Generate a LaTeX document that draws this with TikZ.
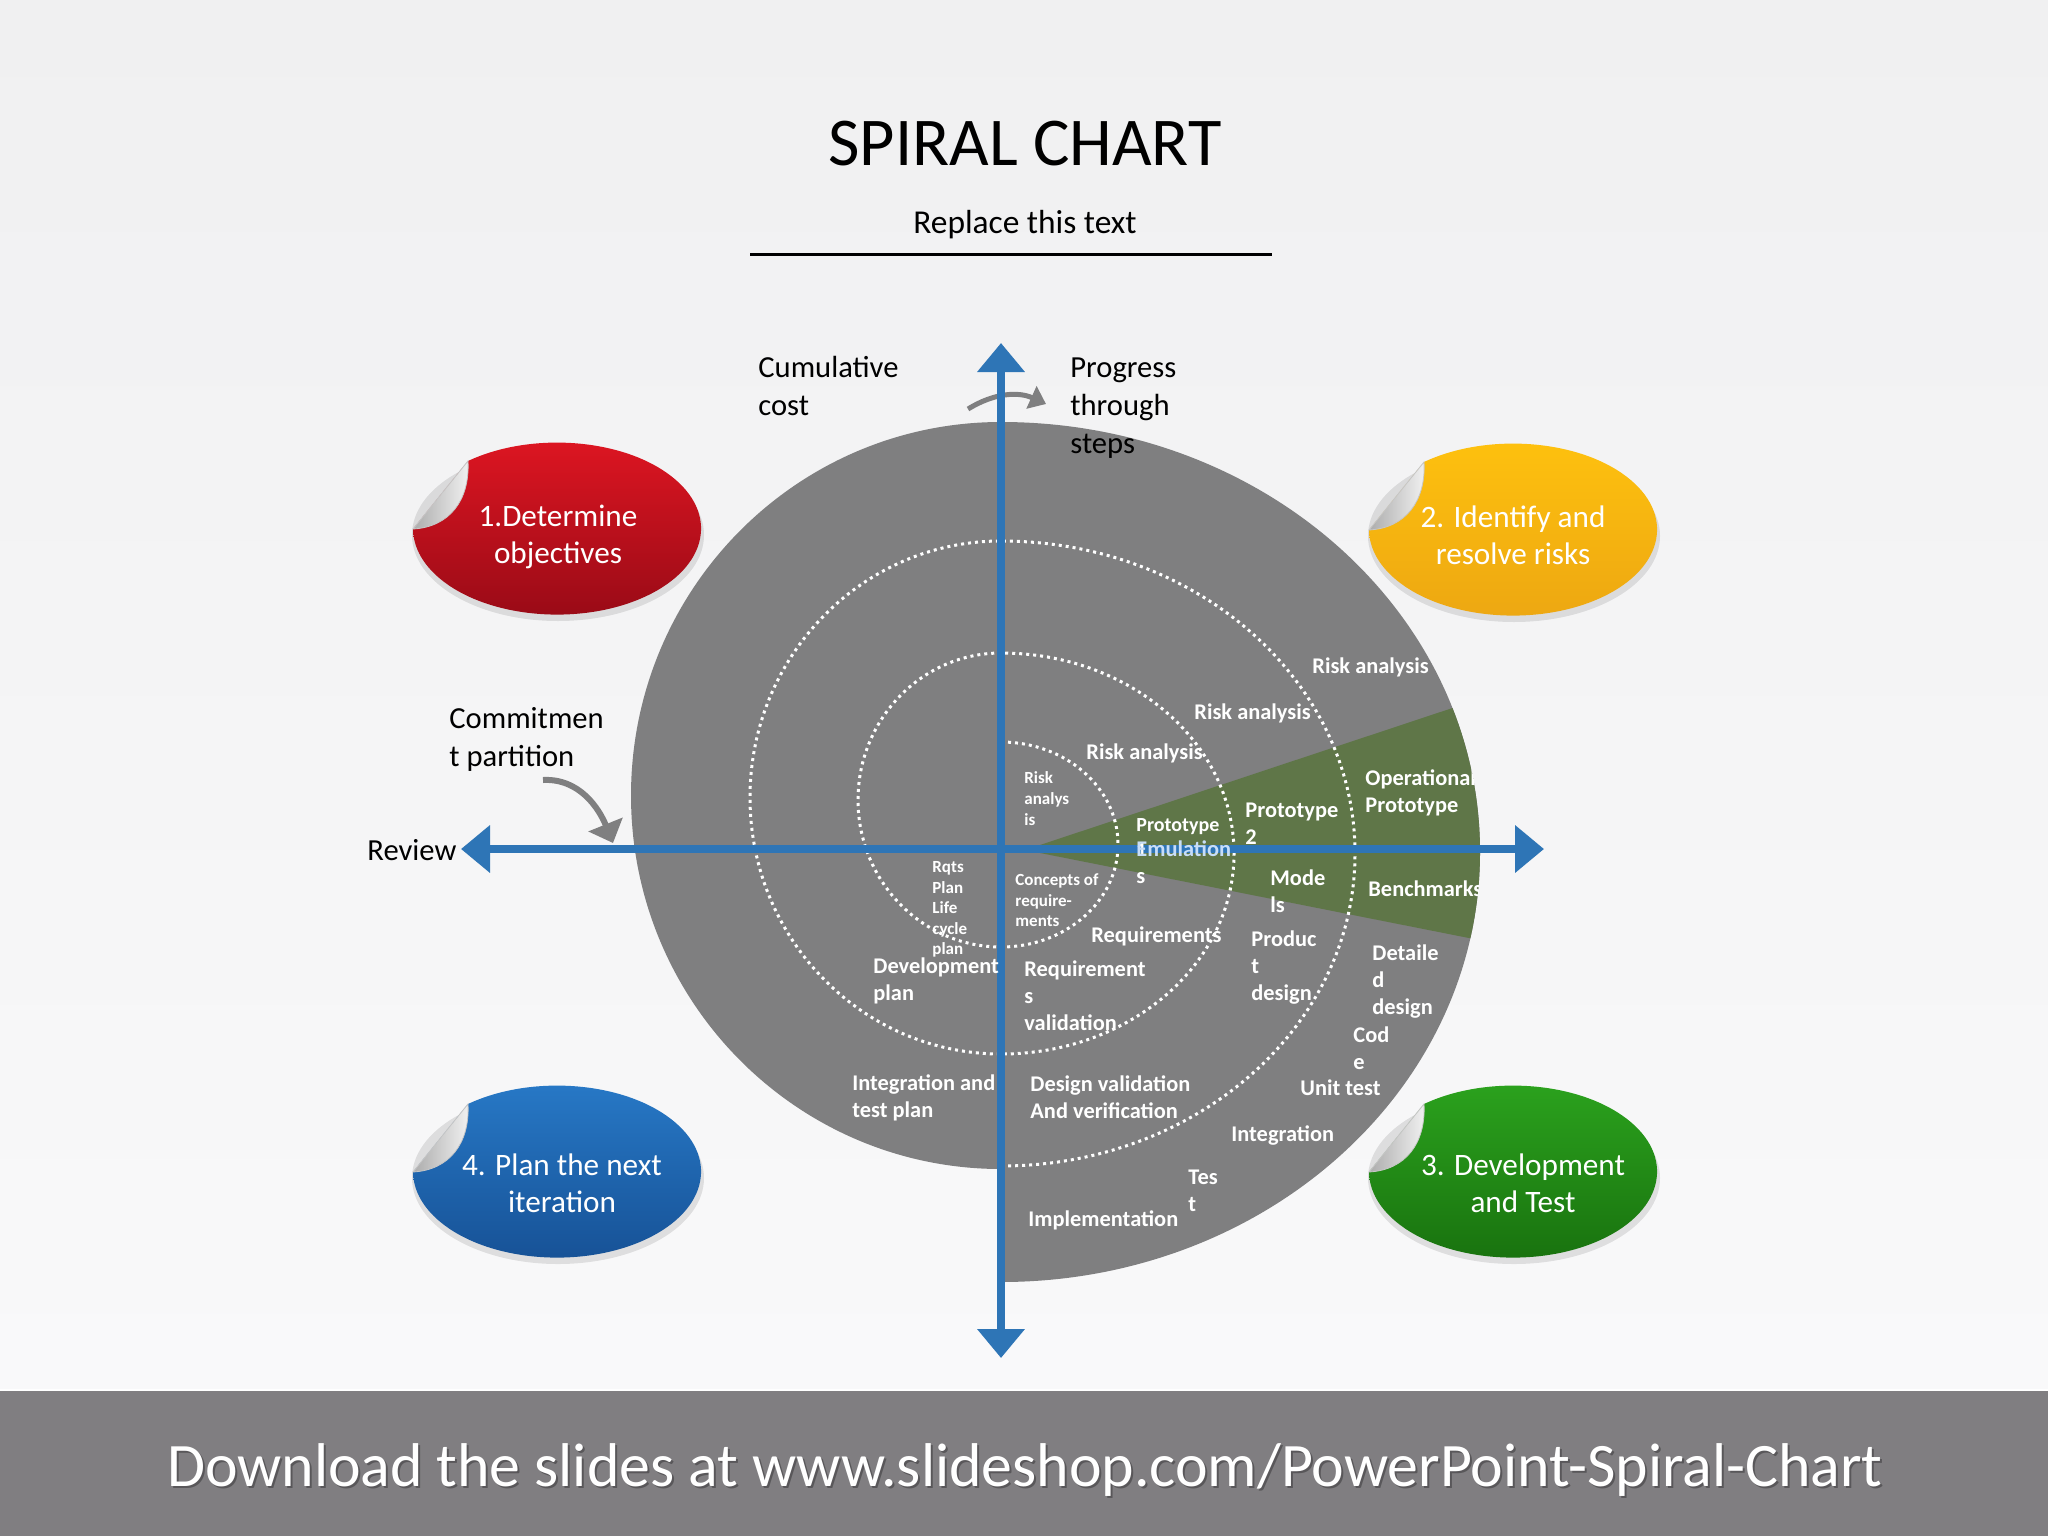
\documentclass[tikz,border=0pt]{standalone}
\usepackage{fontspec}
\setmainfont{Carlito}
\usetikzlibrary{arrows.meta}
\definecolor{bgtop}{RGB}{240,240,241}
\definecolor{bgbot}{RGB}{249,249,250}
\definecolor{footgray}{RGB}{128,126,129}
\definecolor{spiralgray}{RGB}{127,127,128}
\definecolor{wedgegreen}{RGB}{95,118,72}
\definecolor{axisblue}{RGB}{46,117,182}
\definecolor{emublue}{RGB}{200,222,248}
\definecolor{redA}{RGB}{224,22,34}\definecolor{redB}{RGB}{150,10,22}
\definecolor{yelA}{RGB}{255,194,14}\definecolor{yelB}{RGB}{236,166,18}
\definecolor{bluA}{RGB}{40,122,200}\definecolor{bluB}{RGB}{22,80,148}
\definecolor{grnA}{RGB}{44,164,30}\definecolor{grnB}{RGB}{24,112,14}
\def\spiralouter{(1001,-422) arc[start angle=90,end angle=270,x radius=370,y radius=373.5] -- (1001,-1282) arc[start angle=-90,end angle=90,x radius=479,y radius=430] -- cycle}
\newcommand\spsticker[4]{%
  \begin{scope}[shift={(#1,#2)}]
    \fill[black,opacity=0.10] (1,-6) ellipse [x radius=146,y radius=86];
    \shade[top color=#3,bottom color=#4] (-144,0) -- (-89,68) arc[start angle=128.2,end angle=-180,x radius=144,y radius=86];
    \shade[left color=gray!65,right color=gray!10,draw=gray!45,line width=0.4pt] (-144,0) -- (-89,68) .. controls (-87,28) and (-108,2) .. cycle;
  \end{scope}}
\tikzset{
 lbl/.style={text=white,font=\fontsize{11.2}{13.6}\selectfont\bfseries,anchor=west,align=left,inner sep=0pt},
 lbls/.style={text=white,font=\fontsize{8.5}{10.3}\selectfont\bfseries,anchor=west,align=left,inner sep=0pt},
 lblm/.style={text=white,font=\fontsize{10}{12.5}\selectfont\bfseries,anchor=west,align=left,inner sep=0pt},
 note/.style={text=black,font=\fontsize{15.3}{19}\selectfont,anchor=west,align=left,inner sep=0pt},
 stickertext/.style={text=white,font=\fontsize{15.6}{18.5}\selectfont,align=center,inner sep=0pt},
 dots/.style={white,line width=1.5pt,line cap=butt,dash pattern=on 1.5pt off 2pt},
 axisline/.style={axisblue,line width=4pt,{Triangle[width=23pt,length=14.5pt]}-{Triangle[width=23pt,length=14.5pt]}},
 grayarrow/.style={spiralgray,line width=3pt,-{Triangle[width=18pt,length=10pt]}},
 grayarrowsm/.style={spiralgray,line width=2.5pt,-{Triangle[width=12pt,length=8pt]}},
}
\begin{document}
\begin{tikzpicture}[x=0.5pt,y=0.5pt]
\useasboundingbox (0,0) rectangle (2048,-1536);
% background
\shade[top color=bgtop,bottom color=bgbot] (0,0) rectangle (2048,-1390);
\fill[footgray] (0,-1390) rectangle (2048,-1536);
\draw[white,line width=1pt] (0,-1390) -- (2048,-1390);
% title
\node[anchor=base,font=\fontsize{34.2}{40}\selectfont] (title) at (1025,-165) {SPIRAL CHART};
\node[anchor=base,font=\fontsize{16.7}{20}\selectfont] (sub) at (1025,-233) {Replace this text};
\coordinate (ulA) at (750,-254);
\coordinate (ulB) at (1272,-254);
\draw[line width=1.5pt] (ulA) -- (ulB);
% spiral
\fill[spiralgray] \spiralouter;
\begin{scope}
  \clip \spiralouter;
  \fill[wedgegreen] (1025,-850) -- (1600,-659) -- (1600,-964) -- cycle;
\end{scope}
\draw[dots] (1001,-742) arc[start angle=90,end angle=-90,x radius=117,y radius=102.5]
  arc[start angle=270,end angle=90,x radius=143,y radius=147]
  arc[start angle=90,end angle=-90,x radius=233,y radius=200.5]
  arc[start angle=270,end angle=90,x radius=251,y radius=256.5]
  arc[start angle=90,end angle=-90,x radius=354,y radius=312.5];
% gray curved arrows
\coordinate (pa1) at (968,-409);
\coordinate (pa2) at (1046,-404);
\draw[grayarrowsm] (pa1) to[bend left=28] (pa2);
\coordinate (ca1) at (543,-780);
\coordinate (ca2) at (613,-843);
\draw[grayarrow] (ca1) to[out=3,in=112] (ca2);
% axes
\coordinate (O) at (1001,-849);
\coordinate (axL) at (461,-849);
\coordinate (axR) at (1544,-849);
\coordinate (axT) at (1001,-343);
\coordinate (axB) at (1001,-1358);
\draw[axisline] (axL) -- (axR);
\draw[axisline] (axB) -- (axT);
% stickers
\spsticker{557}{-529}{redA}{redB}
\spsticker{1513}{-530}{yelA}{yelB}
\spsticker{557}{-1172}{bluA}{bluB}
\spsticker{1513}{-1172}{grnA}{grnB}
\node[stickertext] (s1) at (558,-537) {1.Determine\\objectives};
\node[stickertext] (s2) at (1513,-535) {2. Identify and\\resolve risks};
\node[stickertext] (s4) at (562,-1183) {4. Plan the next\\iteration};
\node[stickertext] (s3) at (1523,-1183) {3. Development\\and Test};
% notes
\node[note] (cum) at (758,-386) {Cumulative\\cost};
\node[note] (prog) at (1070,-408) {Progress\\through\\steps};
\node[note] (commit) at (449,-739) {Commitmen\\t partition};
\node[note] (rev) at (367,-850) {Review};
% spiral labels
\node[lbl] (ra3) at (1312,-667) {Risk analysis};
\node[lbl] (ra2) at (1194,-713) {Risk analysis};
\node[lbl] (ra1) at (1086,-753) {Risk analysis};
\node[lbls] (ra0) at (1024,-798.5) {Risk\\analys\\is};
\node[lblm] (pt1) at (1136,-837.5) {Prototype\\1};
\node[lbl,text=emublue] (emu) at (1136,-862.5) {Emulation\\\textcolor{white}{s}};
\node[lbl] (pt2) at (1245,-823.5) {Prototype\\2};
\begin{scope}
  \clip \spiralouter;
  \node[lbl] (op) at (1365,-793) {Operational\\Prototype};
  \node[lbl] (bench) at (1368,-889) {Benchmarks};
\end{scope}
\node[lbl] (mod) at (1270,-891.5) {Mode\\ls};
\node[lbl] (prod) at (1251,-967.5) {Produc\\t\\design};
\node[lbl] (det) at (1372,-981.5) {Detaile\\d\\design};
\node[lbl] (cod) at (1353,-1048) {Cod\\e};
\node[lbl] (unit) at (1300,-1088) {Unit test};
\node[lbls] (rqts) at (932,-909.5) {Rqts\\Plan\\Life\\cycle\\plan};
\node[lbls] (conc) at (1015,-900.5) {Concepts of\\require-\\ments};
\node[lbl] (req) at (1091,-936) {Requirements};
\node[lbl] (dev) at (873,-980.5) {Development\\plan};
\node[lbl] (reqv) at (1024,-995.5) {Requirement\\s\\validation};
\node[lbl] (itp) at (852,-1097.5) {Integration and\\test plan};
\node[lbl] (dvv) at (1030,-1097.5) {Design validation\\And verification};
\node[lbl] (integ) at (1231,-1136) {Integration};
\node[lbl] (tes) at (1188,-1190.5) {Tes\\t};
\node[lbl] (impl) at (1028,-1220) {Implementation};
% footer
\node[anchor=base,text=black,opacity=0.3,font=\fontsize{30.9}{36}\selectfont] (footsh) at (1027,-1488) {Download the slides at www.slideshop.com/PowerPoint-Spiral-Chart};
\node[anchor=base,text=white,font=\fontsize{30.9}{36}\selectfont] (foot) at (1025,-1486) {Download the slides at www.slideshop.com/PowerPoint-Spiral-Chart};
\end{tikzpicture}
\end{document}
